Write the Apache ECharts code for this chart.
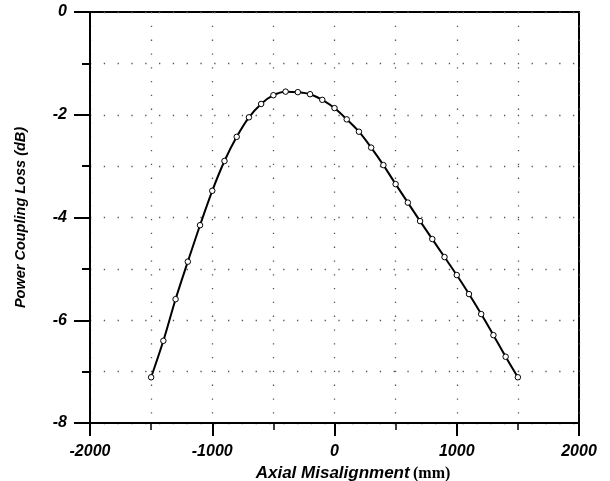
<!DOCTYPE html>
<html>
<head>
<meta charset="utf-8">
<script src="https://cdn.jsdelivr.net/npm/echarts@6/dist/echarts.min.js"></script>
<style>html,body{margin:0;padding:0;background:#fff;}#c{width:610px;height:481px;}</style>
</head>
<body>
<div id="c"></div>
<script>
var xValues = [-1500,-1400,-1300,-1200,-1100,-1000,-900,-800,-700,-600,-500,-400,-300,-200,-100,0,100,200,300,400,500,600,700,800,900,1000,1100,1200,1300,1400,1500];
var lossValues = [-7.11,-6.40,-5.59,-4.86,-4.15,-3.48,-2.90,-2.43,-2.05,-1.79,-1.62,-1.55,-1.56,-1.60,-1.71,-1.87,-2.09,-2.33,-2.64,-2.98,-3.35,-3.71,-4.07,-4.42,-4.77,-5.12,-5.49,-5.88,-6.29,-6.71,-7.11];
var xTicks = [-2000,-1000,0,1000,2000];
var yTicks = [0,-2,-4,-6,-8];

var points = xValues.map(function(x,i){return [x, lossValues[i]];});
var dotted = {color:'#555', width:1.3, type:[1.3,12.5]};
var labelFont = {fontFamily:'Liberation Sans, Arial, sans-serif', fontWeight:'bold', fontStyle:'italic', fontSize:16, color:'#000'};

var chart = echarts.init(document.getElementById('c'), null, {renderer:'canvas'});
chart.setOption({
  animation:false,
  backgroundColor:'#fff',
  grid:{left:90, right:31, top:12, bottom:58, outerBoundsMode:'none', containLabel:false, show:true, borderColor:'#000', borderWidth:2, backgroundColor:'transparent'},
  xAxis:{
    type:'value', min:-2000, max:2000, interval:1000,
    axisLine:{show:true, onZero:false, lineStyle:{color:'#000', width:2}},
    axisTick:{show:true, length:13, lineStyle:{color:'#000', width:2}},
    minorTick:{show:true, splitNumber:2, length:7, lineStyle:{color:'#000', width:1.5}},
    splitLine:{show:true, lineStyle:dotted},
    minorSplitLine:{show:true, lineStyle:dotted},
    axisLabel:Object.assign({margin:21, formatter:function(v){return xTicks.indexOf(v)>=0?String(v):'';}}, labelFont),
    name:'{a|Axial Misalignment} {b|(mm)}',
    nameLocation:'middle', nameGap:29,
    nameTextStyle:{padding:[0,0,0,37], rich:{
      a:{fontFamily:'Liberation Sans, Arial, sans-serif', fontWeight:'bold', fontStyle:'italic', fontSize:17, color:'#000'},
      b:{fontFamily:'Liberation Serif, Times New Roman, serif', fontWeight:'bold', fontSize:16, color:'#000'}
    }}
  },
  yAxis:{
    type:'value', min:-8, max:0, interval:2,
    axisLine:{show:true, onZero:false, lineStyle:{color:'#000', width:2}},
    axisTick:{show:true, length:16, lineStyle:{color:'#000', width:2}},
    minorTick:{show:true, splitNumber:2, length:8, lineStyle:{color:'#000', width:2}},
    splitLine:{show:true, lineStyle:dotted},
    minorSplitLine:{show:true, lineStyle:dotted},
    axisLabel:Object.assign({margin:23, formatter:function(v){return yTicks.indexOf(v)>=0?String(v):'';}}, labelFont),
    name:'Power Coupling Loss (dB)',
    nameLocation:'middle', nameGap:62, nameRotate:90,
    nameTextStyle:{fontFamily:'Liberation Sans, Arial, sans-serif', fontWeight:'bold', fontStyle:'italic', fontSize:14.5, color:'#000'}
  },
  series:[{
    type:'line', data:points, smooth:0.35,
    lineStyle:{color:'#000', width:2},
    symbol:'circle', symbolSize:5.5, showSymbol:true,
    itemStyle:{color:'#fff', borderColor:'#000', borderWidth:1}
  }]
});
</script>
</body>
</html>
